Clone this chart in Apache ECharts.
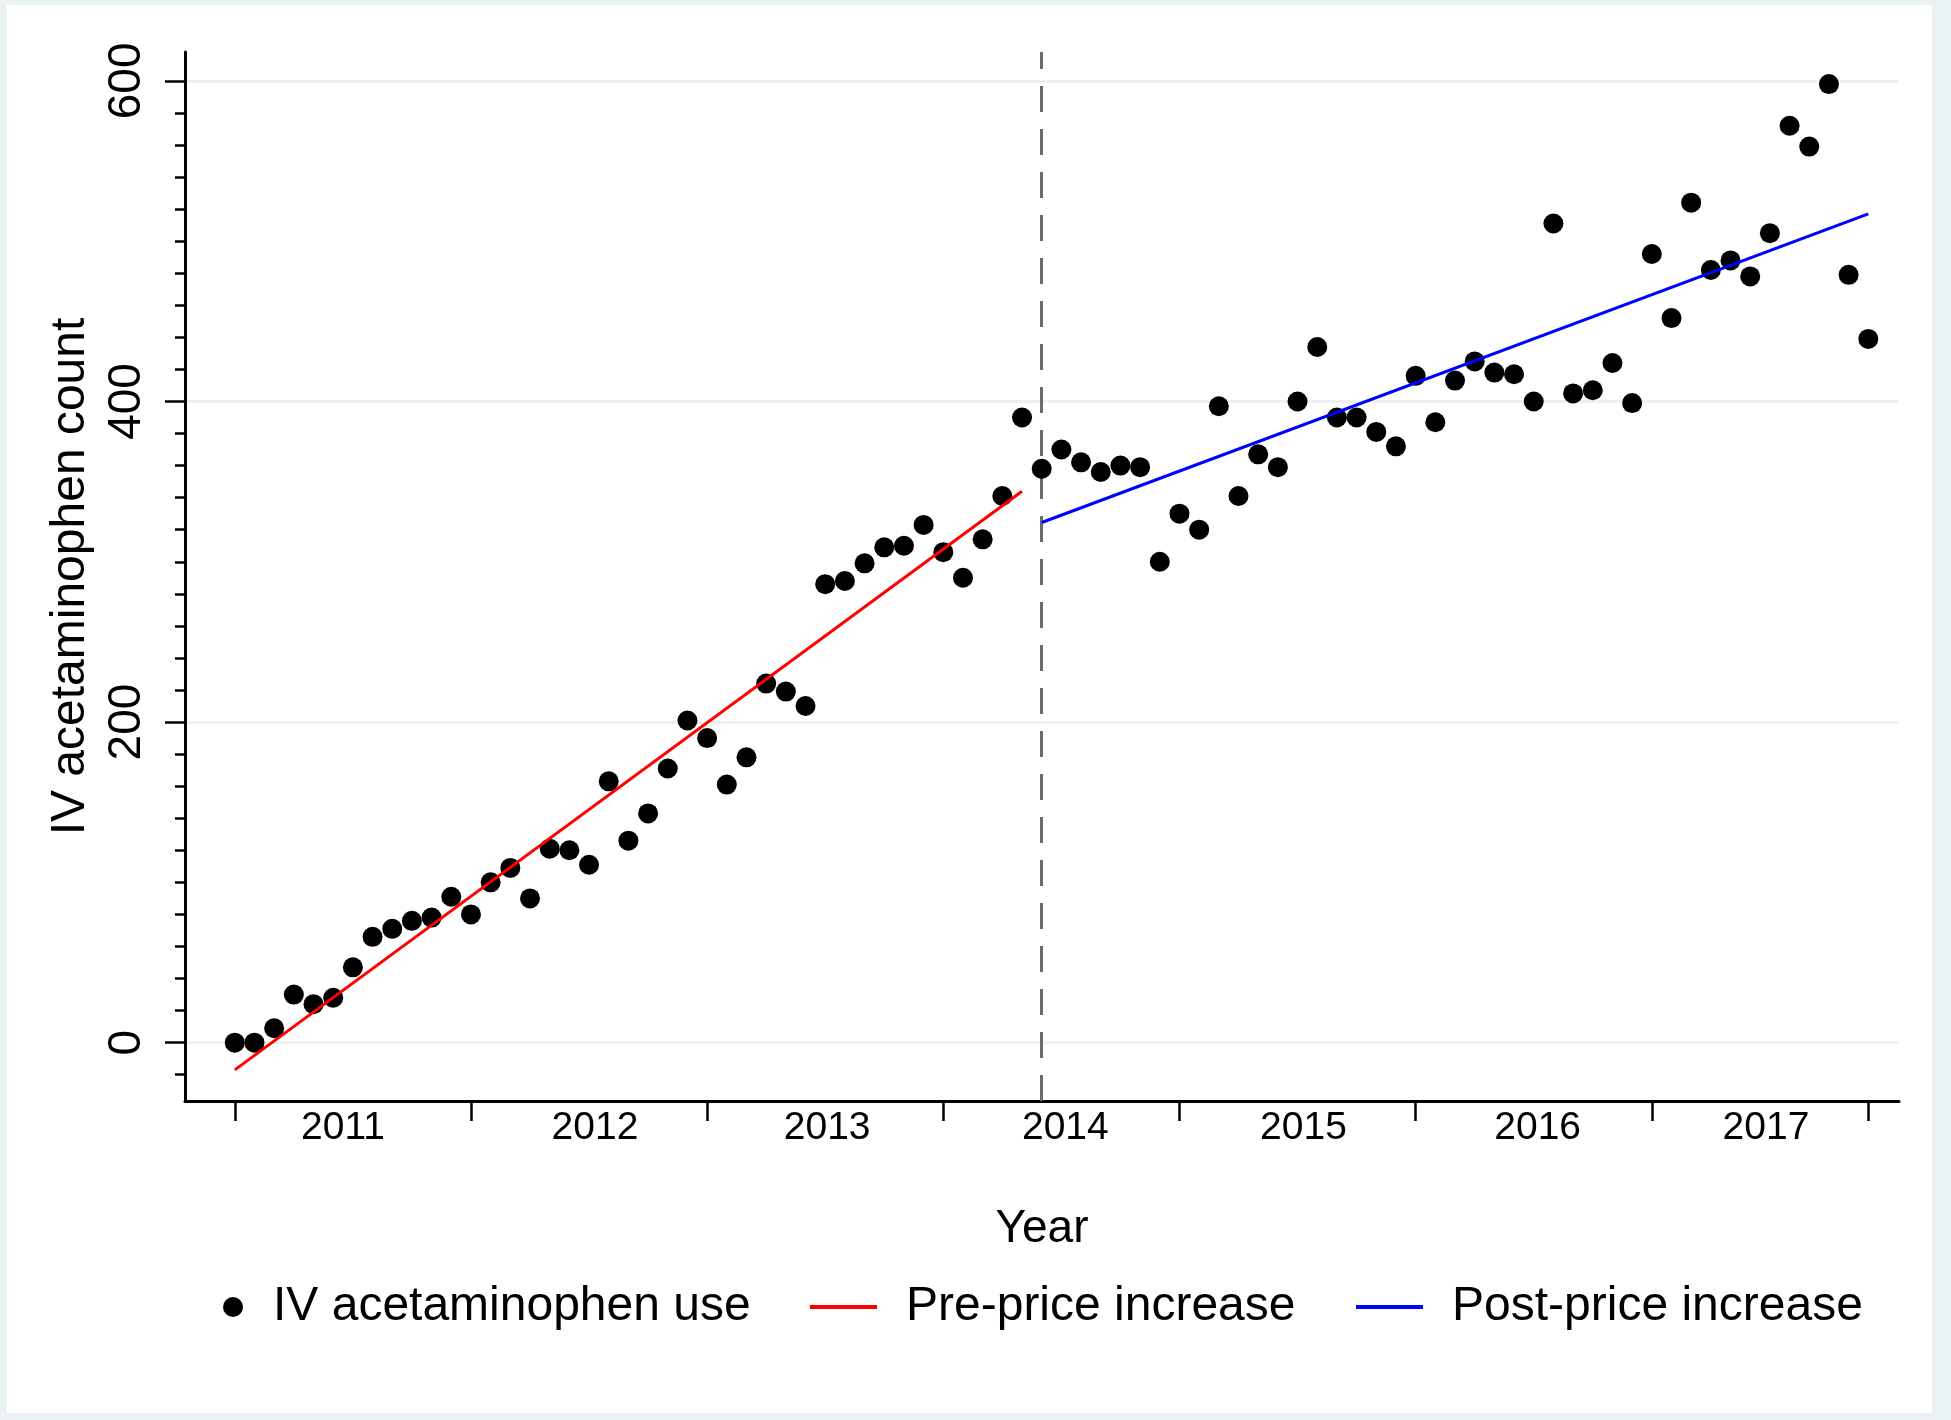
<!DOCTYPE html>
<html>
<head>
<meta charset="utf-8">
<script src="https://cdn.jsdelivr.net/npm/echarts@6/dist/echarts.min.js"></script>
<style>
html, body { margin:0; padding:0; width:1951px; height:1420px; overflow:hidden; background:#EAF2F3; }
#chart { position:absolute; left:7px; top:5px; width:1925px; height:1408px; background:#ffffff; }
</style>
</head>
<body>
<div id="chart"></div>
<script>
// ---- data (monthly, Jan 2011 = index 0 ... Dec 2017 = index 83) ----
const ivUse = [0,0,9,30,24,28,47,66,71,76,78,91,
               80,100,109,90,121,120,111,163,126,143,171,201,
               190,161,178,224,219,210,286,288,299,309,310,323,
               306,290,314,341,390,358,370,362,356,360,359,300,
               330,320,397,341,367,359,400,434,390,390,381,372,
               416,387,413,425,418,417,400,511,405,407,424,399,
               492,452,524,482,488,478,505,572,559,598,479,439];
const preFit = [[0, -17], [40, 344]];
const postFit = [[41, 324.5], [83, 517]];
const priceIncreaseMonth = 41;

const xTickValues = [0, 12, 24, 36, 48, 60, 72, 83];
const xLabelValues = [5.5, 18.3, 30.1, 42.2, 54.3, 66.2, 77.8];
const xLabelTexts = ['2011', '2012', '2013', '2014', '2015', '2016', '2017'];
const yMinorTicks = [-20,0,20,40,60,80,100,120,140,160,180,200,220,240,260,280,300,320,340,360,380,400,420,440,460,480,500,520,540,560,580,600];
const yLabelValues = [0, 200, 400, 600];

const seriesNames = ['IV acetaminophen use', 'Pre-price increase', 'Post-price increase'];
const xTitle = 'Year';
const yTitle = 'IV acetaminophen count';

// ---- chart ----
const FONT = "'Liberation Sans', Arial, Helvetica, sans-serif";
const X_MIN = -2.53, X_MAX = 84.56, Y_MIN = -36.4, Y_MAX = 618;

const chart = echarts.init(document.getElementById('chart'), null, { renderer: 'canvas' });

const scatterData = ivUse.map((v, i) => [i, v]);

const option = {
  animation: false,
  backgroundColor: '#ffffff',
  textStyle: { fontFamily: FONT, color: '#000' },
  grid: { left: 178, top: 47, width: 1714, height: 1049, containLabel: false, outerBoundsMode: 'none' },
  xAxis: {
    type: 'value', min: X_MIN, max: X_MAX,
    name: xTitle, nameLocation: 'middle', nameGap: 105,
    nameTextStyle: { fontSize: 46, color: '#000', fontFamily: FONT },
    axisLine: { show: true, onZero: false, lineStyle: { color: '#000', width: 3 } },
    axisTick: { show: true, customValues: xTickValues, length: 20, lineStyle: { color: '#000', width: 2.5 } },
    axisLabel: {
      show: true, customValues: xLabelValues, fontSize: 39, color: '#000', margin: 8, fontFamily: FONT,
      formatter: function (v) {
        let best = 0, d = Infinity;
        xLabelValues.forEach((p, i) => { if (Math.abs(p - v) < d) { d = Math.abs(p - v); best = i; } });
        return xLabelTexts[best];
      }
    },
    splitLine: { show: false }
  },
  yAxis: [
    {
      type: 'value', min: Y_MIN, max: Y_MAX, position: 'left',
      name: yTitle, nameLocation: 'middle', nameGap: 90, nameRotate: 90,
      nameTextStyle: { fontSize: 48, color: '#000', fontFamily: FONT },
      axisLine: { show: true, onZero: false, lineStyle: { color: '#000', width: 3 } },
      axisTick: { show: true, customValues: yMinorTicks, length: 10, lineStyle: { color: '#000', width: 2.5 } },
      axisLabel: { show: false },
      splitLine: { show: false }
    },
    {
      type: 'value', min: Y_MIN, max: Y_MAX, position: 'left', offset: 0,
      axisLine: { show: false, onZero: false },
      axisTick: { show: true, customValues: yLabelValues, length: 20, lineStyle: { color: '#000', width: 2.5 } },
      axisLabel: { show: true, customValues: yLabelValues, rotate: 90, fontSize: 46, color: '#000', margin: 35, fontFamily: FONT },
      splitLine: { show: false }
    }
  ],
  legend: [
    {
      data: [{ name: seriesNames[0], icon: 'circle' }],
      left: 216, top: 1278, padding: 0, itemWidth: 20, itemHeight: 20, selectedMode: false,
      textStyle: { fontSize: 48, color: '#000', fontFamily: FONT, padding: [0, 0, 0, 25] }
    },
    {
      data: [{ name: seriesNames[1], icon: 'rect' }],
      left: 803, top: 1278, padding: 0, itemWidth: 67, itemHeight: 4, selectedMode: false,
      textStyle: { fontSize: 48, color: '#000', fontFamily: FONT, padding: [0, 0, 0, 24] }
    },
    {
      data: [{ name: seriesNames[2], icon: 'rect' }],
      left: 1349, top: 1278, padding: 0, itemWidth: 67, itemHeight: 4, selectedMode: false,
      textStyle: { fontSize: 48, color: '#000', fontFamily: FONT, padding: [0, 0, 0, 24] }
    }
  ],
  series: [
    {
      name: 'gridlines', type: 'line', data: [], silent: true, z: 0,
      markLine: {
        z: 0, silent: true, symbol: ['none', 'none'], label: { show: false },
        lineStyle: { color: '#EAF2F3', width: 3, type: 'solid' },
        emphasis: { disabled: true },
        data: yLabelValues.map(v => ({ yAxis: v }))
      }
    },
    {
      name: 'divider', type: 'line', data: [], silent: true, z: 1,
      markLine: {
        z: 1, silent: true, symbol: ['none', 'none'], label: { show: false },
        lineStyle: { color: '#6b6b6b', width: 3, type: [26, 17] },
        emphasis: { disabled: true },
        data: [{ xAxis: priceIncreaseMonth }]
      }
    },
    {
      name: seriesNames[0], type: 'scatter', data: scatterData, z: 3,
      symbol: 'circle', symbolSize: 20,
      itemStyle: { color: '#000', opacity: 1 },
      emphasis: { disabled: true }
    },
    {
      name: seriesNames[1], type: 'line', data: preFit, z: 4,
      symbol: 'none', showSymbol: false,
      lineStyle: { color: '#ff0000', width: 3 },
      itemStyle: { color: '#ff0000' },
      emphasis: { disabled: true }
    },
    {
      name: seriesNames[2], type: 'line', data: postFit, z: 4,
      symbol: 'none', showSymbol: false,
      lineStyle: { color: '#0000ff', width: 3 },
      itemStyle: { color: '#0000ff' },
      emphasis: { disabled: true }
    }
  ]
};
chart.setOption(option);
</script>
</body>
</html>
